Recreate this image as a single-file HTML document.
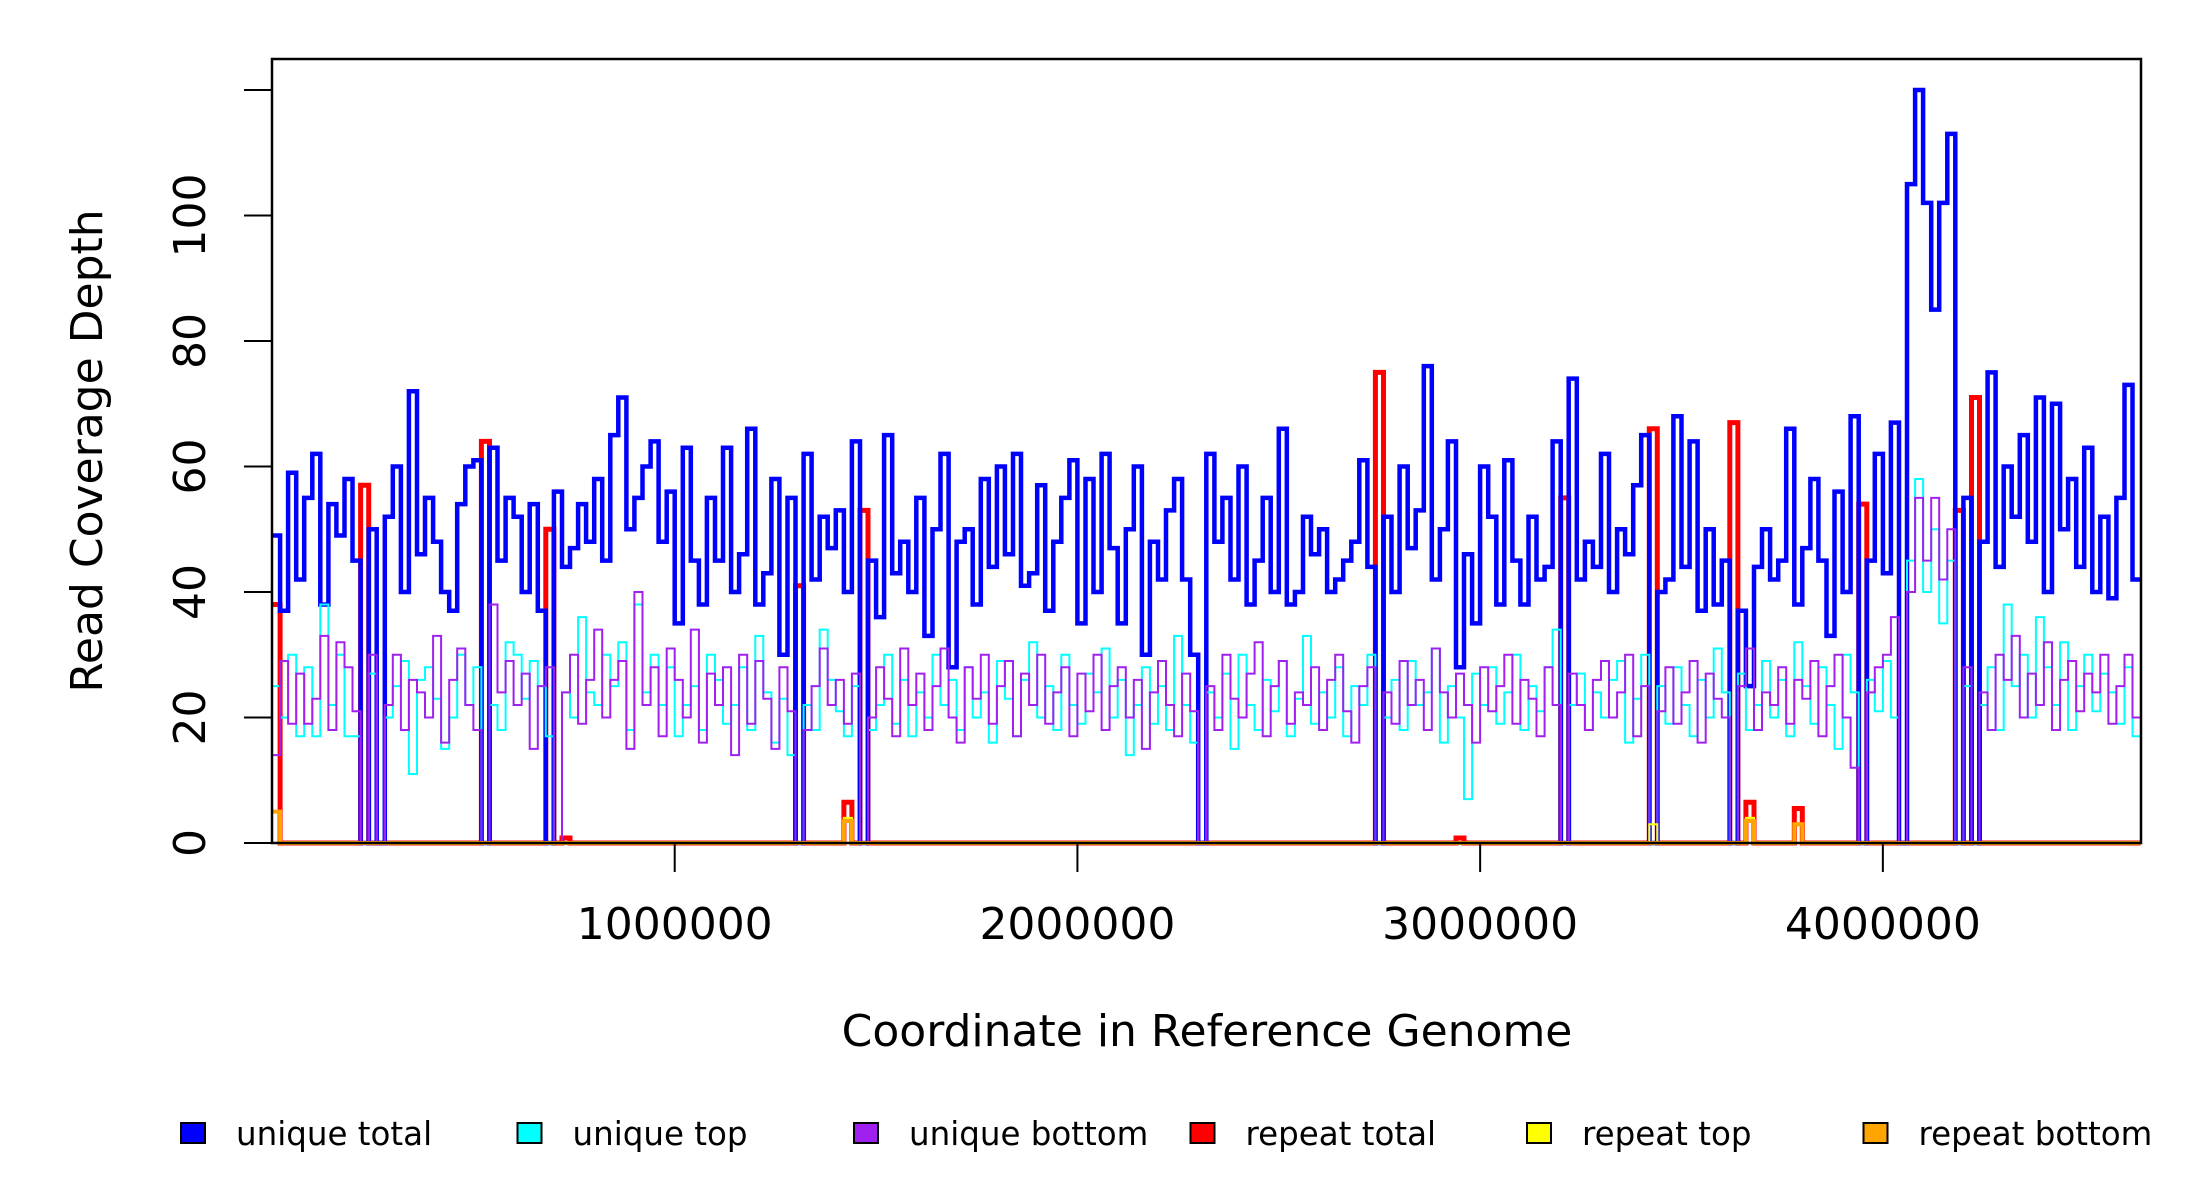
<!DOCTYPE html>
<html><head><meta charset="utf-8"><title>Read Coverage Depth</title>
<style>
html,body{margin:0;padding:0;background:#fff;}
svg{display:block;font-family:"DejaVu Sans","Liberation Sans",sans-serif;}
</style></head>
<body>
<svg id="chart" width="2200" height="1200" viewBox="0 0 2200 1200" xmlns="http://www.w3.org/2000/svg">
<rect x="0" y="0" width="2200" height="1200" fill="#fff"/>
<g id="series"></g>
<rect x="272" y="59" width="1869" height="784" fill="none" stroke="#000" stroke-width="2.5"/>
<g id="axes"></g>
<text x="1207" y="1046" font-size="44" text-anchor="middle">Coordinate in Reference Genome</text>
<text transform="translate(102,451) rotate(-90)" font-size="44" text-anchor="middle">Read Coverage Depth</text>
<g id="legend"></g>
</svg>
<script>
const binSize = 20000;
const uniqueTotal = [49,37,59,42,55,62,38,54,49,58,45,0,50,0,52,60,40,72,46,55,48,40,37,54,60,61,0,63,45,55,52,40,54,37,0,56,44,47,54,48,58,45,65,71,50,55,60,64,48,56,35,63,45,38,55,45,63,40,46,66,38,43,58,30,55,0,62,42,52,47,53,40,64,0,45,36,65,43,48,40,55,33,50,62,28,48,50,38,58,44,60,46,62,41,43,57,37,48,55,61,35,58,40,62,47,35,50,60,30,48,42,53,58,42,30,0,62,48,55,42,60,38,45,55,40,66,38,40,52,46,50,40,42,45,48,61,44,0,52,40,60,47,53,76,42,50,64,28,46,35,60,52,38,61,45,38,52,42,44,64,0,74,42,48,44,62,40,50,46,57,65,0,40,42,68,44,64,37,50,38,45,0,37,25,44,50,42,45,66,38,47,58,45,33,56,40,68,0,45,62,43,67,0,105,120,102,85,102,113,0,55,0,48,75,44,60,52,65,48,71,40,70,50,58,44,63,40,52,39,55,73,42];
const uniqueTop = [25,20,30,17,28,17,38,22,30,17,17,0,27,0,20,25,29,11,26,28,23,15,20,30,22,28,0,22,18,32,30,23,29,25,17,0,24,20,36,24,22,30,25,32,18,38,24,30,22,28,17,22,25,18,30,26,19,22,28,18,33,24,16,23,14,0,22,18,34,26,21,17,25,0,18,22,30,19,26,17,24,20,30,22,26,18,28,20,24,16,29,23,17,26,32,20,25,18,30,22,19,27,24,31,20,26,14,22,28,19,25,18,33,22,16,0,24,20,27,15,30,22,18,26,21,29,17,23,33,19,24,20,28,17,25,22,30,0,20,26,18,29,22,24,31,16,25,20,7,27,22,28,19,24,30,18,25,21,28,34,0,22,27,18,24,20,26,29,16,23,30,0,25,19,28,22,17,26,20,31,24,0,27,18,22,29,20,26,17,32,25,19,28,22,15,30,24,0,26,21,29,20,0,45,58,40,50,35,45,0,25,0,22,28,18,38,25,30,20,36,28,22,32,18,25,30,21,27,24,19,28,17];
const uniqueBottom = [14,29,19,27,19,23,33,18,32,28,21,0,30,0,22,30,18,26,24,20,33,16,26,31,22,18,0,38,24,29,22,27,15,25,28,0,24,30,19,26,34,20,26,29,15,40,22,28,17,31,26,20,34,16,27,22,28,14,30,19,29,23,15,28,21,0,18,25,31,22,26,19,27,0,20,28,23,17,31,22,27,18,25,31,20,16,28,23,30,19,25,29,17,27,22,30,19,24,28,17,27,21,30,18,25,28,20,26,15,24,29,22,17,27,21,0,25,18,30,23,20,27,32,17,25,29,19,24,22,28,18,26,30,21,16,25,28,0,24,19,29,22,26,18,31,24,20,27,22,16,28,21,25,30,19,26,23,17,28,22,0,27,22,18,26,29,20,24,30,17,25,0,21,28,19,24,29,16,27,23,20,0,25,31,18,24,22,28,19,26,23,29,17,25,30,20,12,0,24,28,30,36,0,40,55,45,55,42,50,0,28,0,24,18,30,26,33,20,27,22,32,18,26,29,21,27,24,30,19,25,30,20];
const repeatTotalBins = [0,11,26,34,36,65,71,73,137,147,160,171,181,183,189,197,209,211];
const repeatTotalVals = [38,57,64,50,0.8,41,6.5,53,75,0.8,55,66,67,6.5,5.5,54,53,71];
const repeatTopBins = [71,171,183,189];
const repeatTopVals = [4,3,4,3];
const repeatBottomBins = [0,71,183,189];
const repeatBottomVals = [5,3.5,3.5,3];
const xTicks = [1000000,2000000,3000000,4000000];
const xTickLabels = ["1000000","2000000","3000000","4000000"];
const yTicks = [0,20,40,60,80,100,120];
const yTickLabels = ["0","20","40","60","80","100"];

const NS = "http://www.w3.org/2000/svg";
const PL = 272, PR = 2141, Y0 = 843, YPER = 6.275;
const XMAX = 4641000;
function X(v){ return PL + (v / XMAX) * (PR - PL); }
function Y(v){ return Y0 - v * YPER; }
function sparse(bins, vals){
  const a = new Array(uniqueTotal.length).fill(0);
  bins.forEach((b,i)=>{ a[b] = vals[i]; });
  return a;
}
function stepPath(vals){
  let d = "M" + X(0).toFixed(1) + "," + Y(vals[0]).toFixed(1);
  for (let i = 0; i < vals.length; i++){
    const x1 = Math.min(X((i+1)*binSize), PR);
    d += " H" + x1.toFixed(1);
    if (i + 1 < vals.length) d += " V" + Y(vals[i+1]).toFixed(1);
  }
  return d;
}
const sg = document.getElementById("series");
function addSeries(vals, color, w, name){
  const p = document.createElementNS(NS, "path");
  p.setAttribute("d", stepPath(vals));
  p.setAttribute("fill", "none");
  p.setAttribute("stroke", color);
  p.setAttribute("stroke-width", w);
  
  
  sg.appendChild(p);
}
addSeries(sparse(repeatTotalBins, repeatTotalVals), "#ff0000", 5, "repeat-total-line");
addSeries(uniqueTotal, "#0000ff", 4.5, "unique-total-line");
addSeries(uniqueTop, "#00ffff", 2, "unique-top-line");
addSeries(uniqueBottom, "#a020f0", 2, "unique-bottom-line");
addSeries(sparse(repeatTopBins, repeatTopVals), "#ffff00", 2, "repeat-top-line");
addSeries(sparse(repeatBottomBins, repeatBottomVals), "#ffa500", 4, "repeat-bottom-line");

const ag = document.getElementById("axes");
yTicks.forEach((t,i)=>{
  const l = document.createElementNS(NS, "line");
  l.setAttribute("x1", 244); l.setAttribute("x2", 272);
  l.setAttribute("y1", Y(t)); l.setAttribute("y2", Y(t));
  l.setAttribute("stroke", "#000"); l.setAttribute("stroke-width", 2);
  
  
  ag.appendChild(l);
  if (i < yTickLabels.length){
    const tx = document.createElementNS(NS, "text");
    tx.setAttribute("transform", "translate(205," + Y(t) + ") rotate(-90)");
    tx.setAttribute("font-size", "44");
    tx.setAttribute("text-anchor", "middle");
    tx.textContent = yTickLabels[i];
    
    
    ag.appendChild(tx);
  }
});
xTicks.forEach((t,i)=>{
  const l = document.createElementNS(NS, "line");
  l.setAttribute("x1", X(t)); l.setAttribute("x2", X(t));
  l.setAttribute("y1", 843); l.setAttribute("y2", 872);
  l.setAttribute("stroke", "#000"); l.setAttribute("stroke-width", 2);
  
  
  ag.appendChild(l);
  const tx = document.createElementNS(NS, "text");
  tx.setAttribute("x", X(t)); tx.setAttribute("y", 939);
  tx.setAttribute("font-size", "44");
  tx.setAttribute("text-anchor", "middle");
  tx.textContent = xTickLabels[i];
  
  
  ag.appendChild(tx);
});

const legendLabels = ["unique total","unique top","unique bottom","repeat total","repeat top","repeat bottom"];
const legendColors = ["#0000ff","#00ffff","#a020f0","#ff0000","#ffff00","#ffa500"];
const lg = document.getElementById("legend");
legendLabels.forEach((lab,i)=>{
  const x = 181 + i * 336.5;
  const r = document.createElementNS(NS, "rect");
  r.setAttribute("x", x); r.setAttribute("y", 1123);
  r.setAttribute("width", 24); r.setAttribute("height", 20);
  r.setAttribute("fill", legendColors[i]); r.setAttribute("stroke", "#000"); r.setAttribute("stroke-width", 2);
  
  
  lg.appendChild(r);
  const tx = document.createElementNS(NS, "text");
  tx.setAttribute("x", x + 55); tx.setAttribute("y", 1145);
  tx.setAttribute("font-size", "32.5");
  tx.textContent = lab;
  
  
  lg.appendChild(tx);
});
</script>
</body></html>
